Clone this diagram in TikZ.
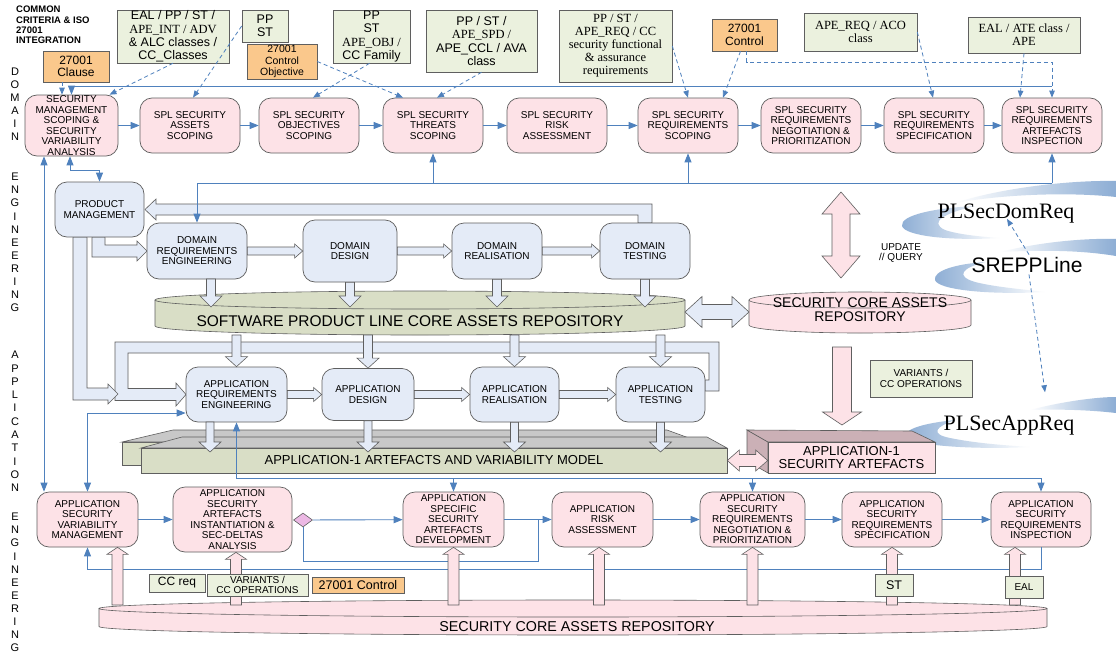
\documentclass[tikz,border=0pt]{standalone}
\usepackage{fontspec}
\setmainfont{Liberation Sans}
\newfontfamily\ccserif{Liberation Serif}
\usetikzlibrary{arrows.meta,shapes.geometric,calc}

\definecolor{pinkbox}{RGB}{253,226,231}
\definecolor{bluebox}{RGB}{228,235,247}
\definecolor{greenbox}{RGB}{235,241,222}
\definecolor{orangebox}{RGB}{250,200,140}
\definecolor{olivebox}{RGB}{217,222,198}
\definecolor{flowblue}{RGB}{79,129,189}
\definecolor{edgegray}{RGB}{95,95,95}
\definecolor{slabgray}{RGB}{200,200,200}
\definecolor{boxside}{RGB}{203,176,182}
\definecolor{diapink}{RGB}{236,184,228}

\tikzset{
  secbox/.style={draw=edgegray, fill=pinkbox, rounded corners=12pt, align=center,
    inner sep=0pt, line width=0.7pt, font=\fontsize{10}{10.5}\selectfont},
  procbox/.style={secbox, fill=bluebox},
  ccbox/.style={draw=edgegray, fill=greenbox, align=center, inner sep=0pt,
    line width=0.6pt, font=\fontsize{12.5}{13.3}\selectfont},
  isobox/.style={ccbox, fill=orangebox},
  flow/.style={draw=flowblue, line width=0.9pt, ->},
  flowboth/.style={flow, <->},
  plain/.style={draw=flowblue, line width=0.9pt},
  dashflow/.style={draw=flowblue, line width=0.8pt, dash pattern=on 4pt off 3pt,
    -{Triangle[length=7pt,width=5.5pt]}},
  blueblk/.style={fill=bluebox, draw=edgegray, line width=0.6pt},
  pinkblk/.style={fill=pinkbox, draw=edgegray, line width=0.6pt},
  railtxt/.style={font=\fontsize{11}{11}\selectfont, inner sep=0pt},
  solid3d/.style={draw=edgegray, line width=0.6pt}
}

% block arrows: [style]{from}{to}{half band}{half head}{head length}
\newcommand\hblock[6][blueblk]{%
  \filldraw[#1] let \p1=(#2), \p2=(#3) in
    (\x1,\y1+#4pt) -- (\x2-#6pt,\y1+#4pt) -- (\x2-#6pt,\y1+#5pt) -- (\x2,\y1)
    -- (\x2-#6pt,\y1-#5pt) -- (\x2-#6pt,\y1-#4pt) -- (\x1,\y1-#4pt) -- cycle;}
\newcommand\vdown[6][blueblk]{%
  \filldraw[#1] let \p1=(#2), \p2=(#3) in
    (\x1-#4pt,\y1) -- (\x1-#4pt,\y2+#6pt) -- (\x1-#5pt,\y2+#6pt) -- (\x1,\y2)
    -- (\x1+#5pt,\y2+#6pt) -- (\x1+#4pt,\y2+#6pt) -- (\x1+#4pt,\y1) -- cycle;}
\newcommand\vup[6][pinkblk]{%
  \filldraw[#1] let \p1=(#2), \p2=(#3) in
    (\x1-#4pt,\y1) -- (\x1-#4pt,\y2-#6pt) -- (\x1-#5pt,\y2-#6pt) -- (\x1,\y2)
    -- (\x1+#5pt,\y2-#6pt) -- (\x1+#4pt,\y2-#6pt) -- (\x1+#4pt,\y1) -- cycle;}
\newcommand\hdblock[6][blueblk]{%
  \filldraw[#1] let \p1=(#2), \p2=(#3) in
    (\x1,\y1) -- (\x1+#6pt,\y1+#5pt) -- (\x1+#6pt,\y1+#4pt) -- (\x2-#6pt,\y1+#4pt)
    -- (\x2-#6pt,\y1+#5pt) -- (\x2,\y1) -- (\x2-#6pt,\y1-#5pt) -- (\x2-#6pt,\y1-#4pt)
    -- (\x1+#6pt,\y1-#4pt) -- (\x1+#6pt,\y1-#5pt) -- cycle;}
\newcommand\vdblock[6][pinkblk]{%
  \filldraw[#1] let \p1=(#2), \p2=(#3) in
    (\x1,\y1) -- (\x1+#5pt,\y1-#6pt) -- (\x1+#4pt,\y1-#6pt) -- (\x1+#4pt,\y2+#6pt)
    -- (\x1+#5pt,\y2+#6pt) -- (\x1,\y2) -- (\x1-#5pt,\y2+#6pt) -- (\x1-#4pt,\y2+#6pt)
    -- (\x1-#4pt,\y1-#6pt) -- (\x1-#5pt,\y1-#6pt) -- cycle;}

\begin{document}
\begin{tikzpicture}[x=1pt, y=-1pt, >={Triangle[length=9pt,width=7pt]}]
\fill[white] (0,0) rectangle (1116,653);
\useasboundingbox (0,0) rectangle (1116,653);

% clouds
\shade[left color=white, right color=flowblue!65] (955,203) .. controls (1000,188) and (1070,180) .. (1116,181) -- (1116,197) .. controls (1070,192) and (1005,194) .. (955,203) -- cycle;
\shade[left color=flowblue!65, right color=white] (1000,238) .. controls (950,241) and (905,236) .. (902,226) .. controls (900,215) and (935,208) .. (975,206) .. controls (945,213) and (928,222) .. (945,230) .. controls (960,235) and (985,237) .. (1000,238) -- cycle;
\shade[left color=white, right color=flowblue!65] (1000,252) .. controls (1040,242) and (1085,238) .. (1116,239) -- (1116,256) .. controls (1080,250) and (1040,250) .. (1000,252) -- cycle;
\shade[left color=flowblue!65, right color=white] (1045,292) .. controls (990,295) and (938,290) .. (935,280) .. controls (933,271) and (955,264) .. (985,262) .. controls (962,268) and (955,276) .. (975,282) .. controls (995,287) and (1020,289) .. (1045,292) -- cycle;
\shade[left color=white, right color=flowblue!65] (1030,410) .. controls (1060,402) and (1095,397) .. (1116,397) -- (1116,413) .. controls (1090,410) and (1060,409) .. (1030,410) -- cycle;
\shade[left color=flowblue!65, right color=white] (1030,447) .. controls (970,450) and (910,445) .. (906,437) .. controls (903,429) and (925,423) .. (955,420) .. controls (935,427) and (930,434) .. (950,438) .. controls (975,443) and (1000,445) .. (1030,447) -- cycle;

\node[anchor=base, inner sep=1pt, font=\ccserif\fontsize{22}{22}\selectfont] (plsd) at (1006,218) {PLSecDomReq};
\node[anchor=base, inner sep=2pt, font=\fontsize{21}{21}\selectfont] (srep) at (1027,272) {SREPPLine};
\node[anchor=base, inner sep=1pt, font=\ccserif\fontsize{22}{22}\selectfont] (plsa) at (1009,430) {PLSecAppReq};
\draw[dashflow] ([xshift=2pt]srep.north) -- ([xshift=1pt,yshift=5pt]plsd.south);
\draw[dashflow] ([xshift=2pt]srep.south) -- ([xshift=36pt,yshift=22pt]plsa.north);

% title and side rail
\node[anchor=north west, align=left, inner sep=0pt, font=\bfseries\fontsize{9.5}{10.3}\selectfont] (title) at (16,6) {COMMON\\CRITERIA \& ISO\\27001\\INTEGRATION};
\foreach \l [count=\i from 0] in {D,O,M,A,I,N}
  \node[railtxt] (rd\i) at (15,72+13*\i) {\l};
\foreach \l [count=\i from 0] in {E,N,G,I,N,E,E,R,I,N,G}
  \node[railtxt] (re\i) at (15,177+13.1*\i) {\l};
\foreach \l [count=\i from 0] in {A,P,P,L,I,C,A,T,I,O,N}
  \node[railtxt] (ra\i) at (15,355+13.3*\i) {\l};
\foreach \l [count=\i from 0] in {E,N,G,I,N,E,E,R,I,N,G}
  \node[railtxt] (rb\i) at (15,517+13.1*\i) {\l};

% CC / ISO annotations
\node[ccbox, minimum width=112pt, minimum height=53pt] (ealcc) at (173,36.5) {EAL / PP / ST /\\\ccserif APE\_INT / ADV\\\& ALC classes /\\CC\_Classes};
\node[ccbox, minimum width=46pt, minimum height=32pt] (ppst) at (265,26) {PP\\ST};
\node[isobox, minimum width=70pt, minimum height=35pt, font=\fontsize{10.5}{11.3}\selectfont] (ctlobj) at (282,61.5) {27001\\Control\\Objective};
\node[ccbox, minimum width=77pt, minimum height=53pt] (apeobj) at (371.5,36.5) {PP\\ST\\\ccserif APE\_OBJ /\\CC Family};
\node[ccbox, minimum width=111pt, minimum height=62pt] (apespd) at (481.5,41) {PP / ST /\\\ccserif APE\_SPD /\\APE\_CCL / AVA\\class};
\node[ccbox, minimum width=113pt, minimum height=72pt, font=\ccserif\fontsize{12.5}{13}\selectfont] (apereq) at (615.5,46) {PP / ST /\\APE\_REQ / CC\\security functional\\\& assurance\\requirements};
\node[isobox, minimum width=65pt, minimum height=32pt, font=\fontsize{12}{13}\selectfont] (ctl) at (744.5,35) {27001\\Control};
\node[ccbox, minimum width=113pt, minimum height=38pt, font=\ccserif\fontsize{12.5}{13}\selectfont] (apeaco) at (860.5,32) {APE\_REQ / ACO\\class};
\node[ccbox, minimum width=112pt, minimum height=36pt, font=\ccserif\fontsize{12.5}{13}\selectfont] (ealate) at (1024,35) {EAL / ATE class /\\APE};
\node[isobox, minimum width=66pt, minimum height=31pt, font=\fontsize{12}{12.5}\selectfont] (clause) at (76,66.5) {27001\\Clause};

% domain security row
\node[secbox, minimum width=93pt, minimum height=61pt] (s1) at (71.5,125.5) {SECURITY\\MANAGEMENT\\SCOPING \&\\SECURITY\\VARIABILITY\\ANALYSIS};
\foreach \nm/\xc/\txt in {s2/190/{SPL SECURITY\\ASSETS\\SCOPING},
    s3/309/{SPL SECURITY\\OBJECTIVES\\SCOPING},
    s4/433/{SPL SECURITY\\THREATS\\SCOPING},
    s5/557/{SPL SECURITY\\RISK\\ASSESSMENT},
    s6/688/{SPL SECURITY\\REQUIREMENTS\\SCOPING},
    s7/811/{SPL SECURITY\\REQUIREMENTS\\NEGOTIATION \&\\PRIORITIZATION},
    s8/934/{SPL SECURITY\\REQUIREMENTS\\SPECIFICATION},
    s9/1052/{SPL SECURITY\\REQUIREMENTS\\ARTEFACTS\\INSPECTION}}
  \node[secbox, minimum width=100pt, minimum height=55pt] (\nm) at (\xc,125.5) {\txt};
\foreach \from/\to in {s1/s2,s2/s3,s3/s4,s4/s5,s5/s6,s6/s7,s7/s8,s8/s9}
  \draw[flow] (\from) -- (\to);

\draw[dashflow] ([xshift=-14pt]clause.south) -- ([xshift=-9.5pt]s1.north);
\draw[dashflow] (ealcc.south) -- ([xshift=38pt]s1.north);
\draw[dashflow] (ppst.west) -- ([xshift=3pt]s2.north);
\draw[dashflow] (ctlobj.east) -- ([xshift=-30pt]s4.north);
\draw[dashflow] ([xshift=-2pt]apeobj.south) -- ([xshift=4pt]s3.north);
\draw[dashflow] (apespd.south) -- ([xshift=4pt]s4.north);
\draw[dashflow] (apereq.east) -- (s6.north);
\draw[dashflow] ([xshift=-4pt]ctl.south) -- ([xshift=35pt]s6.north);
\coordinate (qa) at (1052,62);
\draw[dashflow] ([xshift=2pt]ctl.south) |- (qa) -- (s9.north);
\draw[dashflow] (apeaco.east) -- ([xshift=-1pt]s8.north);
\draw[dashflow] (ealate.south) -- ([xshift=-32pt]s9.north);

\coordinate (tbus) at (0,86);
\draw[flow] (s9.north |- tbus) -- (s1.north |- tbus) -- (s1.north);

% hollow bands of the product line process
\filldraw[blueblk] (638,223) -- (638,215) -- (156,215) -- (156,220) -- (145,209.5) -- (156,199) -- (156,204) -- (652,204) -- (652,223) -- cycle;
\filldraw[blueblk] (92,237) -- (92,257) -- (137,257) -- (137,261) -- (147,251) -- (137,241) -- (137,245) -- (105,245) -- (105,237) -- cycle;
\filldraw[blueblk] (705,380) -- (709,380) -- (709,353) -- (128,353) -- (128,388.5) -- (176,388.5) -- (176,383) -- (186,394.5) -- (176,406) -- (176,400.5) -- (115,400.5) -- (115,342) -- (719,342) -- (719,391) -- (705,391) -- cycle;
\filldraw[blueblk] (73,237) -- (73,400) -- (108,400) -- (108,404) -- (118,394) -- (108,384) -- (108,388) -- (87,388) -- (87,237) -- cycle;

% domain engineering
\node[procbox, minimum width=89pt, minimum height=55pt] (pm) at (99.5,209.5) {PRODUCT\\MANAGEMENT};
\node[procbox, minimum width=100pt, minimum height=56pt] (dre) at (197,251) {DOMAIN\\REQUIREMENTS\\ENGINEERING};
\node[procbox, minimum width=94pt, minimum height=62pt] (dd) at (350,251) {DOMAIN\\DESIGN};
\node[procbox, minimum width=90pt, minimum height=56pt] (dr) at (497,251) {DOMAIN\\REALISATION};
\node[procbox, minimum width=90pt, minimum height=56pt] (dt) at (645,251) {DOMAIN\\TESTING};

% core assets repository
\filldraw[solid3d, fill=olivebox] (155,300) -- (155,326) arc[start angle=180, end angle=360, x radius=265pt, y radius=9pt] -- (685,300);
\filldraw[solid3d, fill=olivebox] (420,300) ellipse [x radius=265pt, y radius=9pt];
\node[font=\fontsize{15.5}{15.5}\selectfont, inner sep=0pt] (splrepo) at (410,321) {SOFTWARE PRODUCT LINE CORE ASSETS REPOSITORY};

\hblock{dre.east}{dd.west}{4}{7}{8}
\hblock{dd.east}{dr.west}{4}{7}{8}
\hblock{dr.east}{dt.west}{4}{7}{8}
\coordinate (spltop) at (0,307);
\coordinate (splbot) at (0,335);
\coordinate (dreo) at (211,279);
\vdown{dreo}{dreo |- spltop}{4.5}{11}{11}
\vdown{dd.south}{dd.south |- spltop}{4.5}{11}{11}
\vdown{dr.south}{dr.south |- spltop}{4.5}{11}{11}
\vdown{dt.south}{dt.south |- spltop}{4.5}{11}{11}

\coordinate (dbus) at (0,183);
\draw[flow] (s9.south |- dbus) -- (dre.north |- dbus) -- (dre.north);
\foreach \bx in {s4,s6,s9}
  \draw[flow] (\bx.south |- dbus) -- (\bx.south);
\coordinate (pmk) at (99.5,170);
\draw[flowboth] ([xshift=-1.5pt]s1.south) |- (pmk) -- (pm.north);

% security core assets
\filldraw[solid3d, fill=pinkbox] (749,300) -- (749,325) arc[start angle=180, end angle=360, x radius=111pt, y radius=8pt] -- (971,300);
\filldraw[solid3d, fill=pinkbox] (860,300) ellipse [x radius=111pt, y radius=8pt];
\node[font=\fontsize{14}{14}\selectfont, align=center, inner sep=0pt] (scar) at (860,310) {SECURITY CORE ASSETS\\REPOSITORY};
\coordinate (splE) at (685,312);
\coordinate (scarW) at (749,312);
\hdblock{splE}{scarW}{7.5}{15.5}{17}
\coordinate (uqT) at (841,192);
\coordinate (uqB) at (841,278);
\vdblock{uqT}{uqB}{9}{19}{22}
\node[font=\fontsize{10}{10.5}\selectfont, align=center, inner sep=0pt] (updq) at (901,253) {UPDATE\\// QUERY};
\coordinate (vaT) at (842,347);
\coordinate (vaB) at (842,425);
\vdown[pinkblk]{vaT}{vaB}{9.5}{19.5}{13}
\node[ccbox, minimum width=102pt, minimum height=37pt, font=\fontsize{10}{10.5}\selectfont] (varm) at (921,378.5) {VARIANTS /\\CC OPERATIONS};

% application engineering
\node[procbox, minimum width=101pt, minimum height=55pt] (are) at (236.5,394.5) {APPLICATION\\REQUIREMENTS\\ENGINEERING};
\node[procbox, minimum width=92pt, minimum height=52pt] (ad) at (368,394.5) {APPLICATION\\DESIGN};
\node[procbox, minimum width=89pt, minimum height=55pt] (arl) at (514.5,394.5) {APPLICATION\\REALISATION};
\node[procbox, minimum width=89pt, minimum height=55pt] (at) at (660.5,394.5) {APPLICATION\\TESTING};
\foreach \bx in {are,ad,arl,at}
  {\vdown{\bx.north |- splbot}{\bx.north}{4.5}{11}{10}}
\hblock{are.east}{ad.west}{4}{7}{8}
\hblock{ad.east}{arl.west}{4}{7}{8}
\hblock{arl.east}{at.west}{4}{7}{8}

% application artefacts
\filldraw[solid3d, fill=olivebox] (122,442) rectangle (700,465);
\filldraw[solid3d, fill=slabgray] (122,442) -- (173,430) -- (667,430) -- (700,442) -- cycle;
\filldraw[solid3d, fill=slabgray] (141,448) -- (182,437) -- (707,437) -- (727,448) -- cycle;
\node[solid3d, fill=olivebox, minimum width=586pt, minimum height=25pt, inner sep=0pt, font=\fontsize{13}{13}\selectfont] (amf) at (434,460.5) {APPLICATION-1 ARTEFACTS AND VARIABILITY MODEL};
\filldraw[solid3d, fill=boxside] (747,430) -- (768,442) -- (768,473) -- (747,461) -- cycle;
\filldraw[solid3d, fill=boxside] (747,430) -- (912,431) -- (935,442) -- (768,442) -- cycle;
\node[solid3d, fill=pinkbox, minimum width=167pt, minimum height=31pt, inner sep=0pt, align=center, font=\fontsize{13}{13.5}\selectfont] (asa) at (851.5,457.5) {APPLICATION-1\\SECURITY ARTEFACTS};
\hdblock[pinkblk]{amf.east}{asa.west}{6}{10.5}{12}
\coordinate (amtop) at (0,452);
\coordinate (areo) at (210,422);
\vdown{areo}{areo |- amtop}{4}{11}{10}
\foreach \bx in {ad,arl,at}
  {\vdown{\bx.south}{\bx.south |- amtop}{4}{11}{10}}

% application security row
\node[secbox, minimum width=101pt, minimum height=55pt] (asvm) at (87.5,519.5) {APPLICATION\\SECURITY\\VARIABILITY\\MANAGEMENT};
\node[secbox, minimum width=119pt, minimum height=65pt] (asai) at (232.5,519.5) {APPLICATION\\SECURITY\\ARTEFACTS\\INSTANTIATION \&\\SEC-DELTAS\\ANALYSIS};
\node[diamond, draw=edgegray, fill=diapink, minimum width=19pt, minimum height=14pt, inner sep=0pt, line width=0.6pt] (dia) at (303,520) {};
\node[secbox, minimum width=101pt, minimum height=55pt] (assad) at (453.5,519.5) {APPLICATION\\SPECIFIC\\SECURITY\\ARTEFACTS\\DEVELOPMENT};
\node[secbox, minimum width=101pt, minimum height=55pt] (ara) at (602.5,519.5) {APPLICATION\\RISK\\ASSESSMENT};
\node[secbox, minimum width=105pt, minimum height=55pt] (asrnp) at (752.5,519.5) {APPLICATION\\SECURITY\\REQUIREMENTS\\NEGOTIATION \&\\PRIORITIZATION};
\node[secbox, minimum width=100pt, minimum height=55pt] (asrs) at (892,519.5) {APPLICATION\\SECURITY\\REQUIREMENTS\\SPECIFICATION};
\node[secbox, minimum width=100pt, minimum height=55pt] (asri) at (1041,519.5) {APPLICATION\\SECURITY\\REQUIREMENTS\\INSPECTION};

\draw[flow] (asvm) -- (asai);
\draw[flow] (dia) -- (assad);
\coordinate (jn) at (538,519.5);
\coordinate (lowq) at (538,561);
\draw[plain] (dia.south) |- (lowq) -- (jn);
\foreach \from/\to in {assad/ara,ara/asrnp,asrnp/asrs,asrs/asri}
  \draw[flow] (\from) -- (\to);
\coordinate (abus) at (236.5,478);
\draw[flow] (asri.north |- abus) -- (abus) -- (are.south);
\foreach \bx in {assad,asrnp,asri}
  \draw[flow] (\bx.north |- abus) -- (\bx.north);
\coordinate (fbk) at (0,569);
\draw[flow] (asri.south) |- (asvm.south |- fbk) -- (asvm.south);
\coordinate (lk) at (0,413);
\draw[flowboth] (asvm.north) |- (are.west |- lk);
\draw[flowboth] ([xshift=-27.5pt]s1.south) -- ([xshift=-43.5pt]asvm.north);

% security core assets below
\filldraw[solid3d, fill=pinkbox] (99,608.5) -- (99,626.5) arc[start angle=180, end angle=360, x radius=474pt, y radius=8.5pt] -- (1047,608.5);
\filldraw[solid3d, fill=pinkbox] (573,608.5) ellipse [x radius=474pt, y radius=8.5pt];
\node[font=\fontsize{14.3}{14.3}\selectfont, inner sep=0pt] (scarb) at (577,627) {SECURITY CORE ASSETS REPOSITORY};

\coordinate (crtop) at (0,605);
\coordinate (up1) at (117.5,605);
\coordinate (up2) at (236,605);
\coordinate (up4) at (599,605);
\coordinate (up7) at (1015,605);
\vup{up1}{up1 |- asvm.south}{5.5}{10.5}{7}
\vup{up2}{up2 |- asai.south}{5.5}{10.5}{7}
\vup{assad.south |- crtop}{assad.south}{5.5}{10.5}{7}
\vup{up4}{up4 |- ara.south}{5.5}{10.5}{7}
\vup{asrnp.south |- crtop}{asrnp.south}{5.5}{10.5}{7}
\vup{asrs.south |- crtop}{asrs.south}{5.5}{10.5}{7}
\vup{up7}{up7 |- asri.south}{5.5}{10.5}{7}

\node[ccbox, minimum width=56pt, minimum height=18pt, font=\fontsize{12}{12}\selectfont] (ccreq) at (177,583) {CC req};
\node[ccbox, minimum width=101pt, minimum height=22pt, font=\fontsize{10}{10.5}\selectfont] (varb) at (257.5,585) {VARIANTS /\\CC OPERATIONS};
\node[isobox, minimum width=92pt, minimum height=16pt, font=\fontsize{12.5}{12.5}\selectfont] (ctlb) at (358,585) {27001 Control};
\node[ccbox, minimum width=38pt, minimum height=22pt, font=\fontsize{12.5}{12.5}\selectfont] (stb) at (894,585) {ST};
\node[ccbox, minimum width=38pt, minimum height=22pt, font=\fontsize{10}{10}\selectfont] (ealb) at (1024,587) {EAL};
\end{tikzpicture}
\end{document}
